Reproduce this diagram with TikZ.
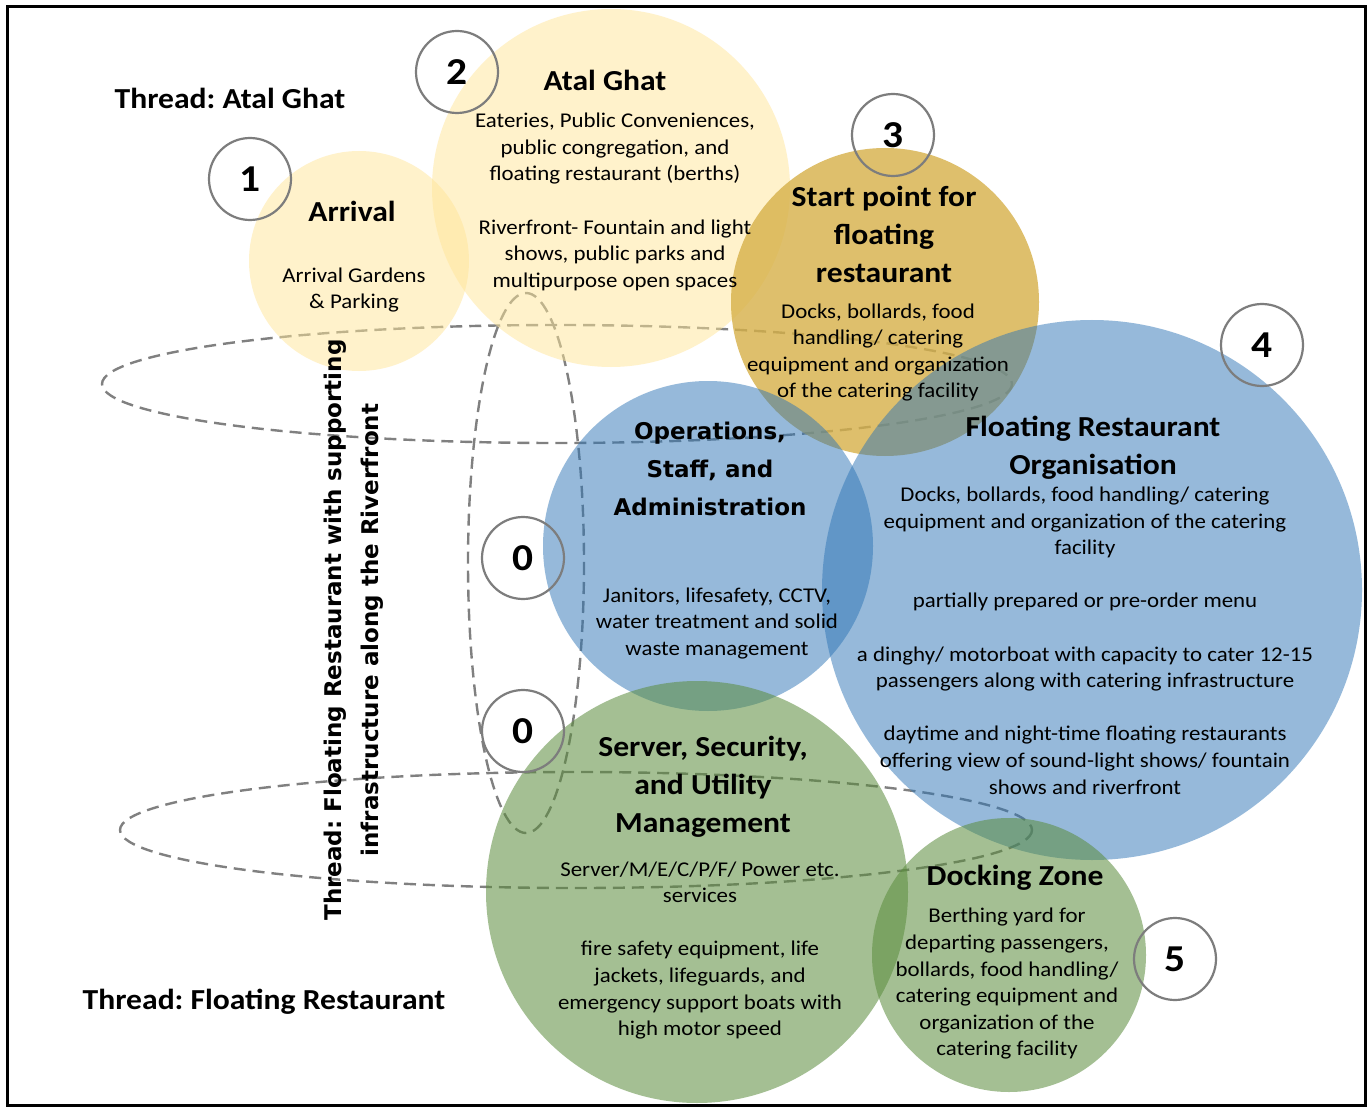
\documentclass[tikz,border=0pt]{standalone}
\usepackage{fontspec}
\setmainfont{Carlito}[FakeStretch=1.09]
\newfontfamily\dejavu{DejaVu Sans}
\frenchspacing
\definecolor{ylw}{RGB}{255,230,153}
\definecolor{gld}{RGB}{214,176,72}
\definecolor{blu}{RGB}{46,117,182}
\definecolor{grn}{RGB}{90,140,60}
\definecolor{ringgray}{RGB}{125,125,125}
\definecolor{dashgray}{RGB}{128,128,128}
\begin{document}
\begin{tikzpicture}[x=1pt,y=-1pt,
  bubble/.style={circle, inner sep=0pt, draw=none},
  ybub/.style={bubble, fill=ylw, fill opacity=0.5},
  gbub/.style={bubble, fill=gld, fill opacity=0.8},
  bbub/.style={bubble, fill=blu, fill opacity=0.5},
  grbub/.style={bubble, fill=grn, fill opacity=0.55},
  ring/.style={circle, draw=ringgray, line width=2.2pt, minimum size=82pt, inner sep=0pt, font=\fontsize{38}{38}\selectfont\bfseries},
  ttl/.style={align=center, inner sep=0pt, font=\fontsize{29}{38}\selectfont\bfseries},
  ttlv/.style={align=center, inner sep=0pt, font=\dejavu\fontsize{23}{38}\selectfont\bfseries},
  body/.style={align=center, inner sep=0pt, font=\fontsize{21}{26.6}\selectfont},
  thr/.style={inner sep=0pt, font=\fontsize{29}{34}\selectfont\bfseries},
  dsh/.style={draw=dashgray, line width=2.4pt, dash pattern=on 12pt off 7pt}
]
\useasboundingbox (0,0) rectangle (1371,1107);
\fill[white] (0,0) rectangle (1371,1107);

% dashed thread outlines (below the bubbles)
\draw[dsh] (557,384) ellipse [x radius=455, y radius=59];
\draw[dsh] (576,830) ellipse [x radius=456, y radius=58];
\draw[dsh] (526,563) ellipse [x radius=58, y radius=270];

% bubbles
\node[ybub, minimum size=220pt] (arr) at (359,261) {};
\node[ybub, minimum size=358pt] (atal) at (611,188) {};
\node[gbub, minimum size=308pt] (start) at (885,302) {};
\node[bbub, minimum size=330pt] (ops) at (708,546) {};
\node[bbub, minimum size=540pt] (fro) at (1092,590) {};
\node[grbub, minimum size=422pt] (srv) at (697,892) {};
\node[grbub, minimum size=274pt] (dock) at (1009,955) {};

% titles
\node[ttl] (arrT) at (352,211) {Arrival};
\node[body] (arrB) at (354,290) {Arrival Gardens\\\& Parking};
\node[ttl] (atalT) at (605,80) {Atal Ghat};
\node[body] (atalB) at (615,202) {Eateries, Public Conveniences,\\public congregation, and\\floating restaurant (berths)\\[26.6pt]Riverfront- Fountain and light\\shows, public parks and\\multipurpose open spaces};
\node[ttl] (startT) at (884,234) {Start point for\\floating\\restaurant};
\node[body] (startB) at (878,352.5) {Docks, bollards, food\\handling/ catering\\equipment and organization\\of the catering facility};
\node[ttlv] (opsT) at (710,469) {Operations,\\Staff, and\\Administration};
\node[body] (opsB) at (717,623.5) {Janitors, lifesafety, CCTV,\\water treatment and solid\\waste management};
\node[ttl] (froT) at (1093,448) {Floating Restaurant\\Organisation};
\node[body] (froB) at (1085,640.5) {Docks, bollards, food handling/ catering\\equipment and organization of the catering\\facility\\[26.6pt]partially prepared or pre-order menu\\[26.6pt]a dinghy/ motorboat with capacity to cater 12-15\\passengers along with catering infrastructure\\[26.6pt]daytime and night-time floating restaurants\\offering view of sound-light shows/ fountain\\shows and riverfront};
\node[ttl] (srvT) at (703,787) {Server, Security,\\and Utility\\Management};
\node[body] (srvB) at (700,950.5) {Server/M/E/C/P/F/ Power etc.\\services\\[26.6pt]fire safety equipment, life\\jackets, lifeguards, and\\emergency support boats with\\high motor speed};
\node[ttl] (dockT) at (1015,878) {Docking Zone};
\node[body] (dockB) at (1007,984) {Berthing yard for\\departing passengers,\\bollards, food handling/\\catering equipment and\\organization of the\\catering facility};

% thread labels
\node[thr] (thrA) at (230,98) {Thread: Atal Ghat};
\node[thr] (thrF) at (264,1002) {Thread: Floating Restaurant};
\node[ttlv, font=\dejavu\fontsize{23}{37}\selectfont\bfseries, rotate=90] (thrV) at (354,630) {Thread: Floating Restaurant with supporting\\infrastructure along the Riverfront};

% number rings
\node[ring] (n1) at (250,179) {1};
\node[ring] (n2) at (457,72) {2};
\node[ring] (n3) at (893,135) {3};
\node[ring] (n4) at (1262,345) {4};
\node[ring] (n0a) at (523,558) {0};
\node[ring] (n0b) at (523,731) {0};
\node[ring] (n5) at (1175,959) {5};

% frame
\draw[line width=3pt] (7,7) rectangle (1365,1105);
\end{tikzpicture}
\end{document}
